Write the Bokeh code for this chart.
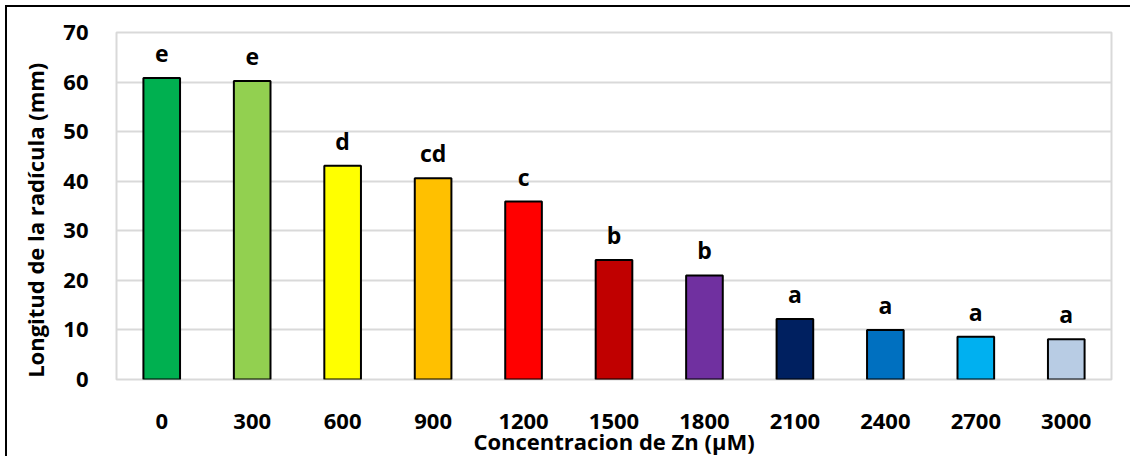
from bokeh.plotting import figure
from bokeh.models import ColumnDataSource, FactorRange, Range1d, FixedTicker
from bokeh.embed import file_html
from bokeh.resources import INLINE
from bokeh.core.properties import value

categories = ["0", "300", "600", "900", "1200", "1500", "1800", "2100", "2400", "2700", "3000"]
lengths = [60.8, 60.2, 43.1, 40.6, 35.9, 24.1, 21.0, 12.2, 10.0, 8.6, 8.1]
letters = ["e", "e", "d", "cd", "c", "b", "b", "a", "a", "a", "a"]
colors = ["#00B050", "#92D050", "#FFFF00", "#FFC000", "#FF0000", "#C00000",
          "#7030A0", "#002060", "#0070C0", "#00B0F0", "#B8CCE4"]

FONT = "Open Sans"

src = ColumnDataSource(dict(cat=categories, val=lengths, lab=letters, col=colors))

p = figure(width=1125, height=451, x_range=FactorRange(*categories, range_padding=0),
           y_range=Range1d(0, 70), output_backend="svg", toolbar_location=None,
           min_border_left=109, min_border_right=21, min_border_top=25, min_border_bottom=77)
p.margin = (5, 0, 0, 5)
p.styles = {"border-left": "2px solid black", "border-top": "2px solid black"}

p.vbar(x="cat", top="val", width=0.405, source=src, fill_color="col",
       line_color="black", line_width=2)
p.text(x="cat", y="val", text="lab", source=src, text_align="center",
       text_baseline="middle", y_offset=-25, text_font=value(FONT),
       text_font_style="bold", text_font_size="23px", text_color="black")

p.outline_line_color = "#D9D9D9"
p.outline_line_width = 2
p.xgrid.grid_line_color = None
p.ygrid.grid_line_color = "#D9D9D9"
p.ygrid.grid_line_width = 2
p.yaxis.ticker = FixedTicker(ticks=[0, 10, 20, 30, 40, 50, 60, 70])

for ax in (p.xaxis[0], p.yaxis[0]):
    ax.axis_line_color = None
    ax.major_tick_line_color = None
    ax.minor_tick_line_color = None
    ax.major_label_text_font = FONT
    ax.major_label_text_font_style = "bold"
    ax.major_label_text_font_size = "22px"
    ax.major_label_text_color = "black"
    ax.axis_label_text_font = FONT
    ax.axis_label_text_font_style = "bold"
    ax.axis_label_text_color = "black"

# trailing no-break spaces nudge the centred title downward, as in the reference
p.yaxis.axis_label = "Longitud de la radícula (mm)" + "\u00a0" * 5
p.yaxis.axis_label_text_font_size = "22px"
p.yaxis.major_label_standoff = 22
p.yaxis.axis_label_standoff = 10
p.xaxis.axis_label = "Concentracion de Zn (µM)"
p.xaxis.axis_label_text_font_size = "22px"
p.xaxis.major_label_standoff = 28
p.xaxis.axis_label_standoff = -6

p.background_fill_color = "white"
p.border_fill_color = "white"

open("out.html", "w").write(file_html(p, INLINE))
